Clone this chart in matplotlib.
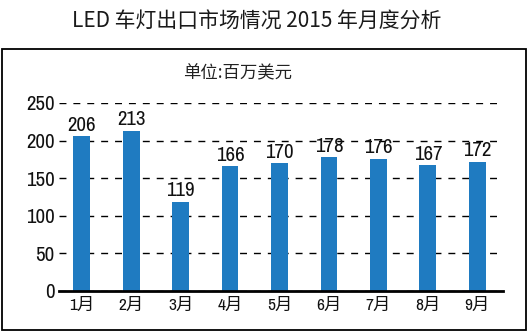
import matplotlib
matplotlib.use('Agg')
import matplotlib.pyplot as plt
from matplotlib.patches import Rectangle

plt.rcParams['font.family'] = ['Noto Sans CJK SC', 'DejaVu Sans']

months = ['1月', '2月', '3月', '4月', '5月', '6月', '7月', '8月', '9月']
values = [206, 213, 119, 166, 170, 178, 176, 167, 172]
yticks = [0, 50, 100, 150, 200, 250]

# narrow face for numbers and month labels
narrow = ['Archivo Narrow', 'Noto Sans CJK SC', 'DejaVu Sans']

W, H = 532, 334
fig = plt.figure(figsize=(W / 100, H / 100), dpi=100)

# outer frame around the plot
fig.patches.append(Rectangle((2 / W, 1 - 330 / H), 524 / W, 281 / H,
                             transform=fig.transFigure, fill=False,
                             edgecolor='black', linewidth=1.3))

fig.text(257 / W, 1 - 22 / H, 'LED 车灯出口市场情况 2015 年月度分析',
         ha='center', va='center', fontsize=15, color='#1a1a1a')
fig.text(238 / W, 1 - 73 / H, '单位:百万美元', ha='center', va='center',
         fontsize=12.5, color='#222222')

ax = fig.add_axes([59 / W, 1 - 291 / H, 444 / W, 188 / H])
x = range(len(months))
ax.bar(x, values, width=0.34, color='#1f7bc1', zorder=3)
for i, v in zip(x, values):
    ax.text(i, v + 2, str(v), ha='center', va='bottom',
            fontsize=15, family=narrow, color='#111111', zorder=4)

ax.set_xlim(-0.46, 8.52)
ax.set_ylim(0, 250)
ax.set_yticks(yticks)
ax.set_yticklabels([str(t) for t in yticks], family=narrow, fontsize=15)
ax.set_xticks(list(x))
ax.set_xticklabels(months, family=narrow, fontsize=12.5)
ax.tick_params(axis='both', length=0, pad=3, colors='#111111')
ax.tick_params(axis='x', pad=5)

ax.grid(axis='y', color='black', linestyle=(0, (5, 5)), linewidth=1, zorder=1)
for s in ['left', 'right', 'top']:
    ax.spines[s].set_visible(False)
ax.spines['bottom'].set_linewidth(2)
ax.spines['bottom'].set_zorder(5)

fig.savefig('out.png', dpi=100)
